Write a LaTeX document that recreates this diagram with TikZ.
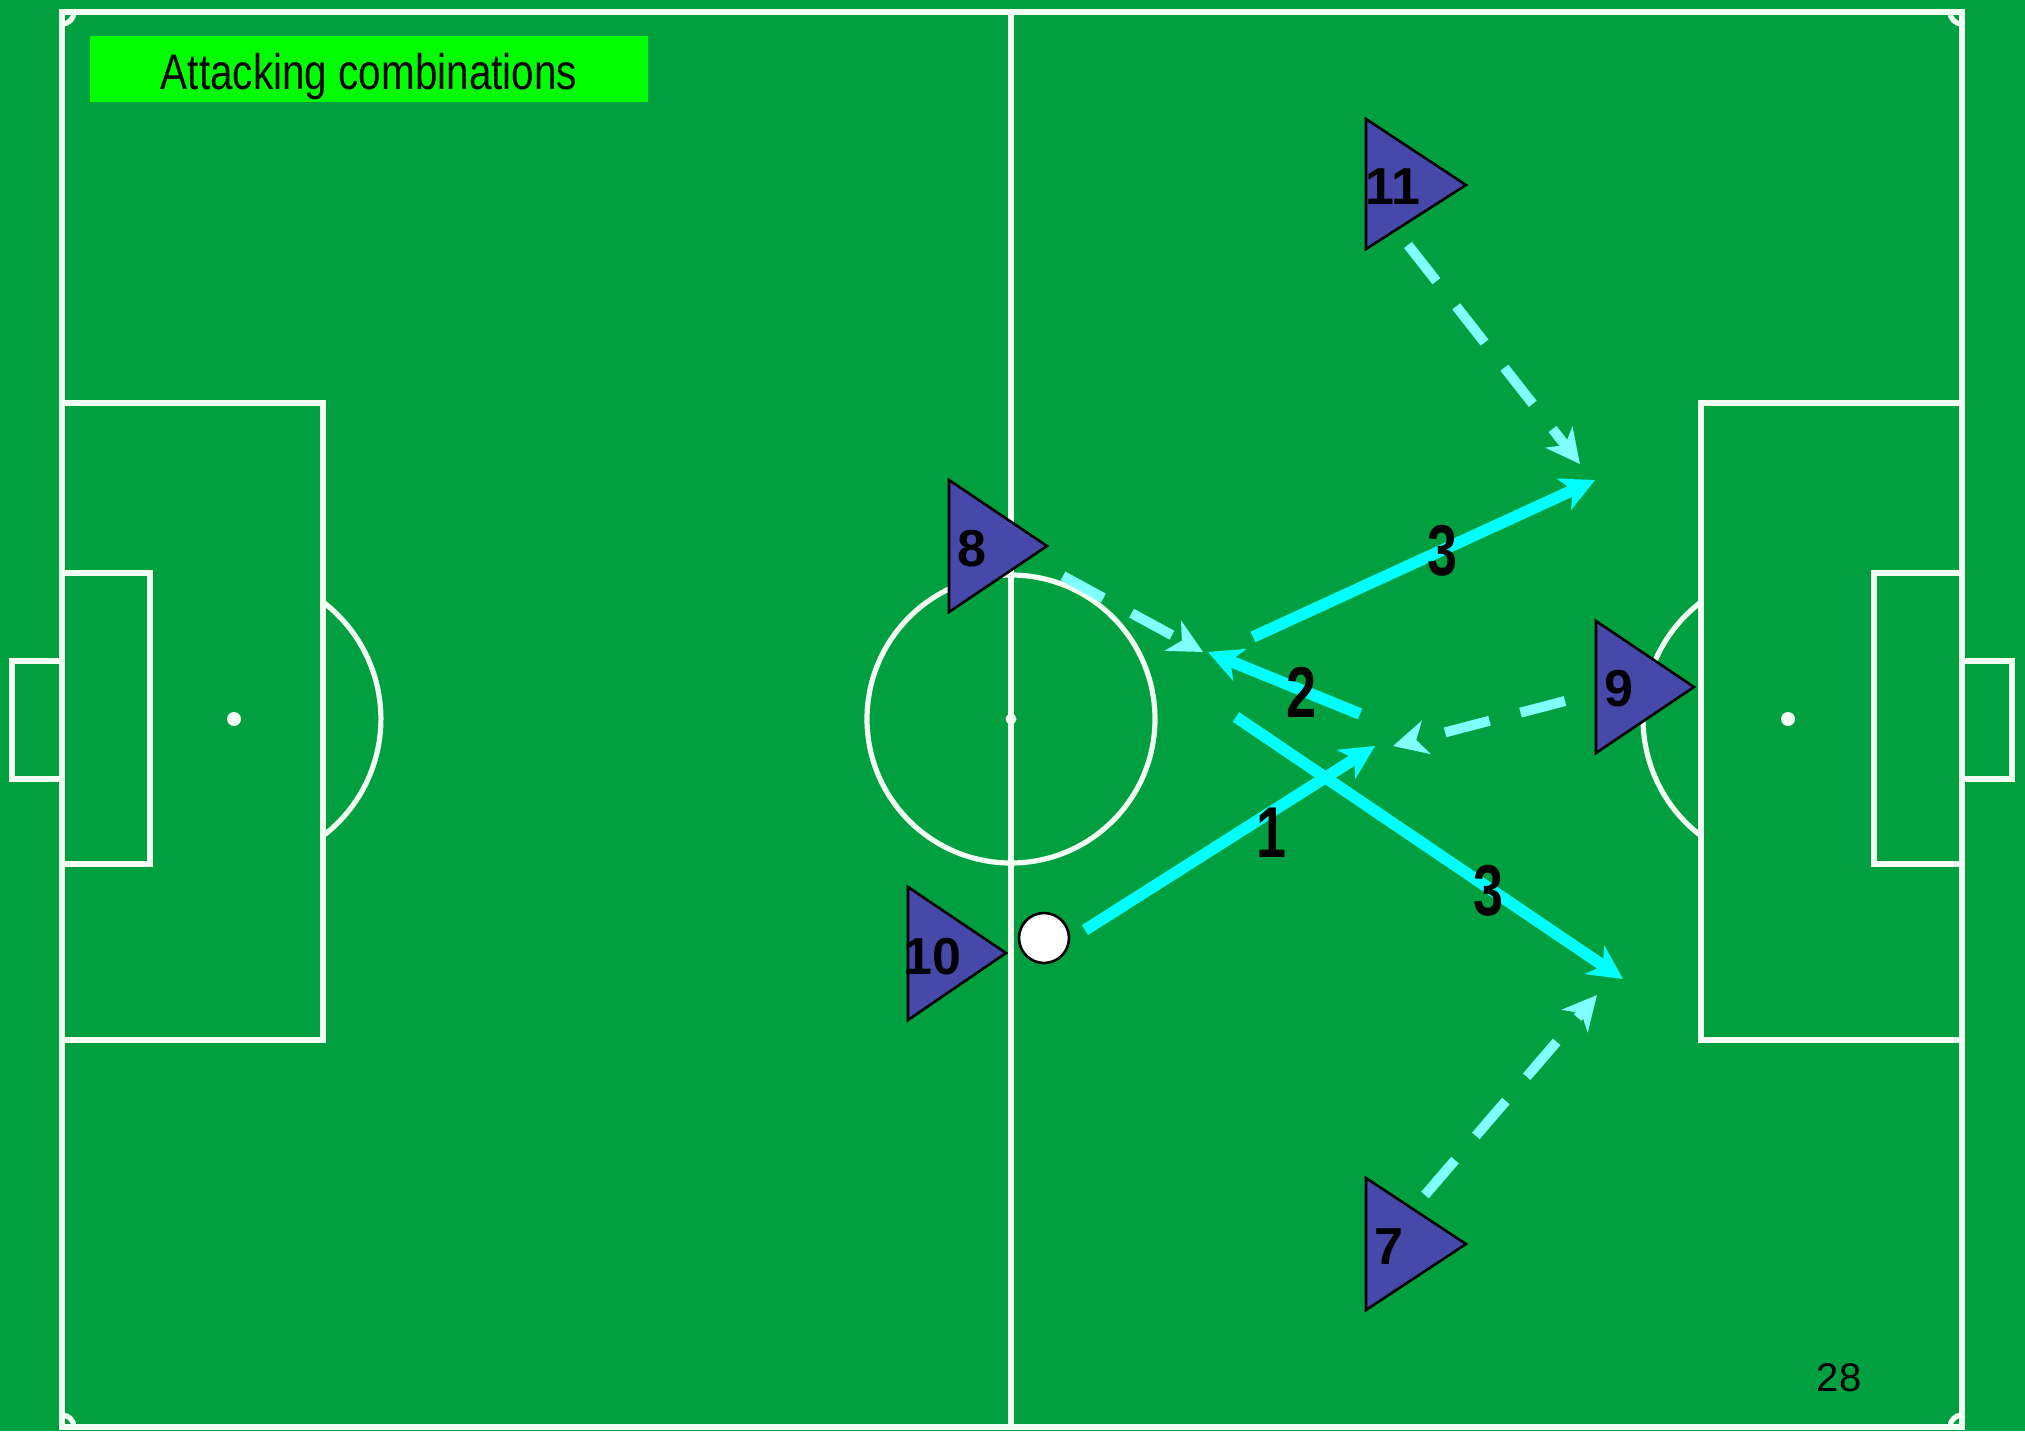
\documentclass[tikz,border=0pt]{standalone}
\usepackage{fontspec}
\setmainfont{Liberation Sans}
\usetikzlibrary{arrows.meta}
\definecolor{pitch}{HTML}{00A040}
\definecolor{chalk}{HTML}{F2FFF2}
\definecolor{playerblue}{HTML}{4649AA}
\definecolor{titlegreen}{HTML}{00FF00}
\definecolor{passcyan}{HTML}{00FFFF}
\definecolor{runcyan}{HTML}{80FFFF}
\begin{document}
\begin{tikzpicture}[x=0.5pt,y=-0.5pt,
  chalkline/.style={draw=chalk, line width=2.6pt},
  chalkspot/.style={fill=chalk},
  player/.style={fill=playerblue, draw=black, line width=1.3pt, line join=miter},
  num/.style={font=\fontsize{26}{30}\selectfont\bfseries, inner sep=0pt},
  pass/.style={draw=passcyan, line width=5.8pt, -{Stealth[length=17pt,width=17pt,inset=5pt]}},
  run/.style={draw=runcyan, line width=5pt, dash pattern=on 23pt off 16pt, -{Stealth[length=17pt,width=17pt,inset=5pt]}},
  passlabel/.style={font=\fontsize{36}{40}\selectfont\bfseries, inner sep=0pt},
  titlebox/.style={fill=titlegreen, minimum width=279pt, minimum height=33pt, inner sep=0pt, text height=20.5pt, text depth=0pt, font=\fontsize{25}{28}\selectfont},
  pagenum/.style={font=\fontsize{20}{24}\selectfont, inner sep=0pt},
  ballstyle/.style={circle, draw=black, fill=white, line width=1.3pt, minimum size=25pt, inner sep=0pt}
]
\useasboundingbox (0,0) rectangle (2025,1431);
\fill[pitch] (0,0) rectangle (2025,1431);
% pitch markings
\draw[chalkline] (62,12) rectangle (1962,1427);
\draw[chalkline] (1011,12) -- (1011,1427);
\draw[chalkline] (1011,719) circle[radius=144];
\fill[chalkspot] (1011,719) circle[radius=5.5];
% left end
\draw[chalkline] (62,403) rectangle (323,1040);
\draw[chalkline] (62,573) rectangle (150,864);
\draw[chalkline] (62,661) -- (12,661) -- (12,779) -- (62,779);
\fill[chalkspot] (234,719) circle[radius=7];
\draw[chalkline] (323,602) arc[start angle=-52.7, end angle=52.7, radius=147];
% right end
\draw[chalkline] (1701,403) rectangle (1962,1040);
\draw[chalkline] (1874,573) rectangle (1962,864);
\draw[chalkline] (1962,661) -- (2012,661) -- (2012,779) -- (1962,779);
\fill[chalkspot] (1788,719) circle[radius=7];
\draw[chalkline] (1701,602) arc[start angle=-127.3, end angle=-232.7, radius=147];
% corner arcs
\draw[chalkline] (74,12) arc[start angle=0, end angle=90, radius=12];
\draw[chalkline] (1950,12) arc[start angle=180, end angle=90, radius=12];
\draw[chalkline] (74,1427) arc[start angle=0, end angle=-90, radius=12];
\draw[chalkline] (1950,1427) arc[start angle=180, end angle=270, radius=12];
% title and page number
\node[titlebox] (title) at (369,68.5) {\scalebox{0.81}[1]{Attacking combinations}};
\node[pagenum] (page) at (1839,1378) {28};
% players
\path[player] (1366,119) -- (1466,185) -- (1366,249) -- cycle;
\node[num] (p11) at (1393,187) {11};
\path[player] (949,480) -- (1047,546) -- (949,612) -- cycle;
\node[num] (p8) at (972,549) {8};
\path[player] (1596,621) -- (1694,687) -- (1596,753) -- cycle;
\node[num] (p9) at (1619,689) {9};
\path[player] (908,887) -- (1006,953) -- (908,1020) -- cycle;
\node[num] (p10) at (932,957) {10};
\path[player] (1366,1178) -- (1466,1244) -- (1366,1310) -- cycle;
\node[num] (p7) at (1389,1247) {7};
% ball
\node[ballstyle] (ball) at (1044,938) {};
% arrow end points
\coordinate (a1s) at (1085,930);
\coordinate (a1e) at (1375,746);
\coordinate (a2s) at (1360,714);
\coordinate (a2e) at (1208,652);
\coordinate (a3s) at (1253,637);
\coordinate (a3e) at (1595,480);
\coordinate (a4s) at (1236,717);
\coordinate (a4e) at (1623,979);
\coordinate (r11s) at (1408,245);
\coordinate (r11e) at (1580,464);
\coordinate (r8s) at (1063,576);
\coordinate (r8e) at (1203,652);
\coordinate (r9s) at (1565,701);
\coordinate (r9e) at (1393,746);
\coordinate (r7s) at (1425,1195);
\coordinate (r7e) at (1597,995);
% runs
\draw[run] (r11s) -- (r11e);
\draw[run] (r8s) -- (r8e);
\draw[run] (r9s) -- (r9e);
\draw[run] (r7s) -- (r7e);
% passes
\draw[pass] (a1s) -- (a1e);
\draw[pass] (a2s) -- (a2e);
\draw[pass] (a3s) -- (a3e);
\draw[pass] (a4s) -- (a4e);
% pass numbers
\node[passlabel] (l1) at (1272,833) {\scalebox{0.75}[1]{1}};
\node[passlabel] (l2) at (1302,692) {\scalebox{0.75}[1]{2}};
\node[passlabel] (l3a) at (1443,551) {\scalebox{0.75}[1]{3}};
\node[passlabel] (l3b) at (1489,891) {\scalebox{0.75}[1]{3}};
\end{tikzpicture}
\end{document}
